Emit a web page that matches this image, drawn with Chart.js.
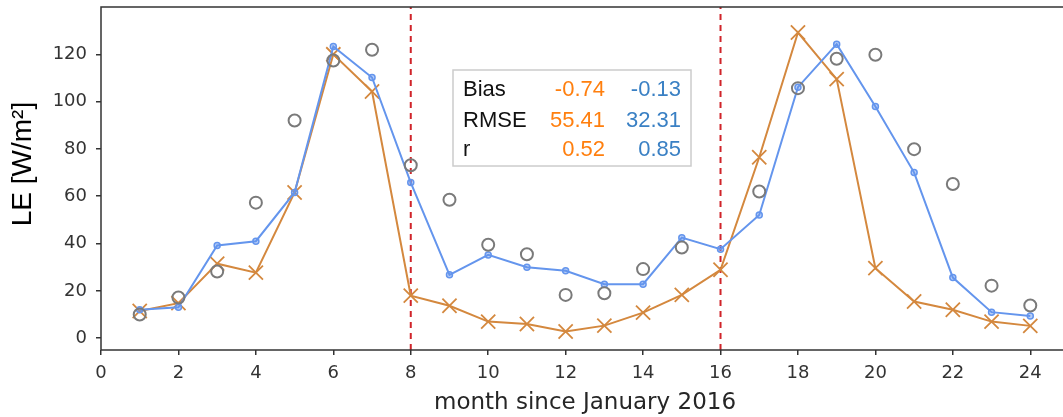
<!DOCTYPE html>
<html><head><meta charset="utf-8">
<script src="https://cdn.jsdelivr.net/npm/chart.js@4/dist/chart.umd.min.js"></script>
<style>html,body{margin:0;padding:0;background:#fff;overflow:hidden;width:1063px;height:417px}</style>
</head><body>
<canvas id="c" width="1080" height="417" style="display:block;width:1080px;height:417px"></canvas>
<script>
const months = [1,2,3,4,5,6,7,8,9,10,11,12,13,14,15,16,17,18,19,20,21,22,23,24];
const obsLE = [10.0,17.2,28.2,57.3,92.0,117.4,121.9,73.1,58.5,39.5,35.5,18.3,19.0,29.2,38.3,null,62.0,105.7,118.1,119.8,79.9,65.2,22.2,13.8];
const blueLE = [12.0,13.1,39.2,41.0,61.6,123.3,110.2,65.8,26.8,35.2,30.0,28.5,22.8,22.8,42.5,37.6,52.1,106.1,124.3,97.9,70.0,25.6,11.0,9.4];
const orangeLE = [11.5,14.8,31.5,27.7,61.6,120.0,104.3,18.0,13.7,7.0,6.0,2.8,5.3,10.8,18.3,28.9,76.5,129.2,109.5,29.6,15.5,12.0,7.0,5.2];
const xTicks = [0,2,4,6,8,10,12,14,16,18,20,22,24];
const yTicks = [0,20,40,60,80,100,120];
const splitMonths = [8,16];
const statNames = ['Bias','RMSE','r'];
const orangeStats = ['-0.74','55.41','0.52'];
const blueStats = ['-0.13','32.31','0.85'];
const yTitle = 'LE [W/m\u00B2]';
const xTitle = 'month since January 2016';
const X_MIN = 0, X_MAX = 25, Y_MIN = -5, Y_MAX = 140;

const pts = arr => months.map((m, i) => ({x: m, y: arr[i]}));

const vlineSets = splitMonths.map(m => ({
  data: [{x: m, y: Y_MIN}, {x: m, y: Y_MAX}],
  borderColor: '#d0242a', borderWidth: 2, borderDash: [6, 5],
  pointRadius: 0, fill: false, order: 5
}));

const framePlugin = {
  id: 'frame',
  afterDatasetsDraw(chart) {
    const a = chart.chartArea, ctx = chart.ctx;
    ctx.save();
    ctx.strokeStyle = '#333'; ctx.lineWidth = 1.5;
    ctx.strokeRect(a.left, a.top, a.right - a.left, a.bottom - a.top);
    ctx.restore();
  }
};

const annotPlugin = {
  id: 'annot',
  afterDraw(chart) {
    const ctx = chart.ctx;
    ctx.save();
    ctx.translate(23, 164);
    ctx.rotate(-Math.PI / 2);
    ctx.font = '28px "Liberation Sans", Arial, sans-serif';
    ctx.fillStyle = '#000';
    ctx.textAlign = 'center'; ctx.textBaseline = 'middle';
    ctx.fillText(yTitle, 0, 0);
    ctx.restore();
    ctx.save();
    ctx.fillStyle = 'rgba(255,255,255,0.85)';
    ctx.fillRect(453, 70, 238, 96);
    ctx.strokeStyle = '#cccccc'; ctx.lineWidth = 1.5;
    ctx.strokeRect(453, 70, 238, 96);
    ctx.font = '22px "Liberation Sans", Arial, sans-serif';
    ctx.textBaseline = 'alphabetic';
    const base = [96, 126.5, 156];
    statNames.forEach((n, i) => {
      ctx.textAlign = 'left'; ctx.fillStyle = '#111';
      ctx.fillText(n, 463, base[i]);
      ctx.textAlign = 'right'; ctx.fillStyle = '#ff7f0e';
      ctx.fillText(orangeStats[i], 605, base[i]);
      ctx.fillStyle = '#3a80c4';
      ctx.fillText(blueStats[i], 681, base[i]);
    });
    ctx.restore();
  }
};

new Chart(document.getElementById('c'), {
  type: 'line',
  data: {
    datasets: [
      {data: pts(obsLE), showLine: false, pointStyle: 'circle', pointRadius: 6, pointHoverRadius: 6,
       pointBorderColor: '#7a7a7a', pointBackgroundColor: 'rgba(0,0,0,0)', pointBorderWidth: 2, order: 0},
      {data: pts(blueLE), borderColor: '#6495ed', borderWidth: 2, pointStyle: 'circle', pointRadius: 3,
       pointBorderColor: '#6495ed', pointBackgroundColor: 'rgba(100,149,237,0.45)', pointBorderWidth: 1.5, tension: 0, order: 1},
      {data: pts(orangeLE), borderColor: '#d4883e', borderWidth: 2, pointStyle: 'crossRot', pointRadius: 10,
       pointBorderColor: '#d4883e', pointBorderWidth: 1.8, tension: 0, order: 2},
      ...vlineSets
    ]
  },
  options: {
    responsive: false, animation: false,
    layout: {autoPadding: false, padding: {top: 7, right: 11, left: 0, bottom: 0}},
    plugins: {legend: {display: false}, tooltip: {enabled: false}},
    scales: {
      x: {
        type: 'linear', min: X_MIN, max: X_MAX,
        afterBuildTicks: s => { s.ticks = xTicks.map(v => ({value: v})); },
        afterFit: s => { s.height = 67; s.paddingLeft = 0; s.paddingRight = 0; },
        grid: {drawOnChartArea: false, drawTicks: true, tickLength: 5, color: '#333', lineWidth: 1.5},
        border: {display: false},
        ticks: {font: {family: 'DejaVu Sans', size: 18}, color: '#333', padding: 8, maxRotation: 0,
                callback: v => String(v)},
        title: {display: true, text: xTitle, font: {family: 'DejaVu Sans', size: 23}, color: '#262626',
                padding: {top: 0, bottom: 0}}
      },
      y: {
        type: 'linear', min: Y_MIN, max: Y_MAX,
        afterBuildTicks: s => { s.ticks = yTicks.map(v => ({value: v})); },
        afterFit: s => { s.width = 101; s.paddingTop = 0; s.paddingBottom = 0; },
        grid: {drawOnChartArea: false, drawTicks: true, tickLength: 5, color: '#333', lineWidth: 1.5},
        border: {display: false},
        ticks: {font: {family: 'DejaVu Sans', size: 18}, color: '#333', padding: 9,
                callback: v => String(v)}
      }
    }
  },
  plugins: [framePlugin, annotPlugin]
});
</script>
</body></html>
